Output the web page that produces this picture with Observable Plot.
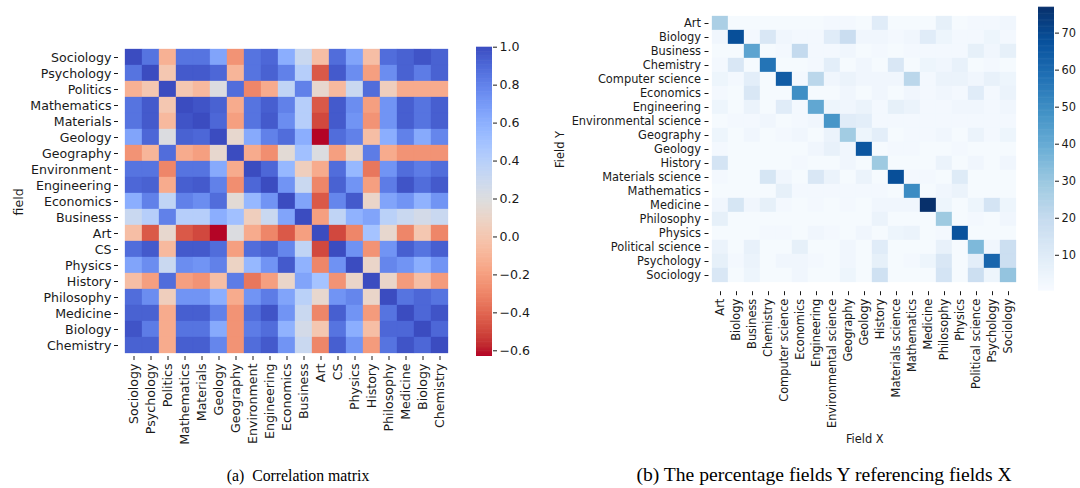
<!DOCTYPE html>
<html><head><meta charset="utf-8">
<script src="https://cdn.jsdelivr.net/npm/d3@7"></script>
<script src="https://cdn.jsdelivr.net/npm/@observablehq/plot@0.6"></script>
<style>
body{margin:0;background:#fff;width:1080px;height:488px;position:relative;overflow:hidden;font-family:"DejaVu Sans",sans-serif;}
.p{position:absolute;top:0;}
.p svg{max-width:none;background:transparent;}
.cap{position:absolute;top:466px;font-family:"Liberation Serif",serif;font-size:17px;color:#000;white-space:pre;text-align:center;}
</style></head><body>
<div class="p" id="ha" style="left:0;width:460px"></div>
<div class="p" id="ca" style="left:476px;width:60px"></div>
<div class="p" id="hb" style="left:540px;width:485px"></div>
<div class="p" id="cb" style="left:1038px;width:42px"></div>
<div class="cap" style="left:98px;width:400px;font-size:15.8px;top:467px">(a)  Correlation matrix</div>
<div class="cap" style="left:574px;width:500px;font-size:19.6px;top:464px">(b) The percentage fields Y referencing fields X</div>
<script>
// ---- data: (a) correlation matrix ----
const fieldsA = ["Sociology","Psychology","Politics","Mathematics","Materials","Geology","Geography","Environment","Engineering","Economics","Business","Art","CS","Physics","History","Philosophy","Medicine","Biology","Chemistry"];
const corr = [
 [1.0,0.85,-0.12,0.85,0.85,0.65,-0.25,0.85,0.9,0.6,0.3,-0.05,0.88,0.65,-0.05,0.88,0.92,0.97,0.92],
 [0.85,1.0,0.0,0.95,0.95,0.9,-0.1,0.85,0.92,0.8,0.4,-0.45,0.95,0.75,-0.2,0.75,0.92,0.82,0.92],
 [-0.12,0.0,1.0,0.0,-0.08,0.2,0.88,-0.3,-0.15,0.35,0.8,0.12,-0.08,0.3,0.88,0.05,-0.15,-0.15,-0.15],
 [0.85,0.95,0.0,1.0,0.97,0.92,-0.15,0.85,0.93,0.8,0.4,-0.45,0.95,0.75,-0.2,0.72,0.93,0.85,0.93],
 [0.85,0.95,-0.08,0.97,1.0,0.9,-0.2,0.85,0.95,0.75,0.4,-0.5,0.95,0.72,-0.25,0.72,0.93,0.85,0.93],
 [0.65,0.9,0.2,0.92,0.9,1.0,0.12,0.62,0.8,0.88,0.6,-0.63,0.88,0.8,-0.05,0.6,0.8,0.62,0.78],
 [-0.25,-0.1,0.88,-0.15,-0.2,0.12,1.0,-0.15,-0.27,0.15,0.5,0.2,-0.2,0.08,0.82,-0.15,-0.25,-0.25,-0.25],
 [0.85,0.85,-0.3,0.85,0.85,0.62,-0.15,1.0,0.9,0.55,0.05,-0.15,0.88,0.55,-0.35,0.72,0.88,0.82,0.88],
 [0.9,0.92,-0.15,0.93,0.95,0.8,-0.27,0.9,1.0,0.72,0.3,-0.3,0.92,0.72,-0.2,0.82,0.97,0.88,0.95],
 [0.6,0.8,0.35,0.8,0.75,0.88,0.15,0.55,0.72,1.0,0.65,-0.45,0.78,0.95,0.1,0.65,0.72,0.58,0.72],
 [0.3,0.4,0.8,0.4,0.4,0.6,0.5,0.05,0.3,0.65,1.0,-0.2,0.35,0.58,0.65,0.38,0.3,0.25,0.3],
 [-0.05,-0.45,0.12,-0.45,-0.5,-0.63,0.2,-0.15,-0.3,-0.45,-0.2,1.0,-0.5,-0.3,0.48,0.12,-0.3,0.0,-0.3],
 [0.88,0.95,-0.08,0.95,0.95,0.88,-0.2,0.88,0.92,0.78,0.35,-0.5,1.0,0.73,-0.25,0.72,0.93,0.85,0.93],
 [0.65,0.75,0.3,0.75,0.72,0.8,0.08,0.55,0.72,0.95,0.58,-0.3,0.73,1.0,0.1,0.78,0.72,0.6,0.72],
 [-0.05,-0.2,0.88,-0.2,-0.25,-0.05,0.82,-0.35,-0.2,0.1,0.65,0.48,-0.25,0.1,1.0,0.1,-0.22,-0.05,-0.22],
 [0.88,0.75,0.05,0.72,0.72,0.6,-0.15,0.72,0.82,0.65,0.38,0.12,0.72,0.78,0.1,1.0,0.85,0.9,0.85],
 [0.92,0.92,-0.15,0.93,0.93,0.8,-0.25,0.88,0.97,0.72,0.3,-0.3,0.93,0.72,-0.22,0.85,1.0,0.9,0.97],
 [0.97,0.82,-0.15,0.85,0.85,0.62,-0.25,0.82,0.88,0.58,0.25,0.0,0.85,0.6,-0.05,0.9,0.9,1.0,0.9],
 [0.92,0.92,-0.15,0.93,0.93,0.78,-0.25,0.88,0.95,0.72,0.3,-0.3,0.93,0.72,-0.22,0.85,0.97,0.9,1.0]
];
const corrTicks = [-0.6,-0.4,-0.2,0.0,0.2,0.4,0.6,0.8,1.0];

// ---- data: (b) percentage fields Y referencing fields X ----
const fieldsB = ["Art","Biology","Business","Chemistry","Computer science","Economics","Engineering","Environmental science","Geography","Geology","History","Materials science","Mathematics","Medicine","Philosophy","Physics","Political science","Psychology","Sociology"];
const pct = [
 [26,1,1,1,1,1,1,2,2,1,9,1,1,1,7,1,2,2,3],
 [3,68,2,12,3,2,2,9,18,3,3,2,3,9,4,2,2,4,2],
 [1,1,42,1,2,20,2,2,3,1,2,1,2,2,2,2,7,3,7],
 [2,12,1,57,1,1,2,8,1,3,1,12,1,4,3,6,1,2,1],
 [4,2,8,1,64,2,22,3,5,3,3,3,22,2,5,5,3,6,4],
 [2,1,12,1,1,49,1,1,3,1,3,1,3,2,3,2,9,2,5],
 [4,1,5,1,9,2,41,4,3,5,2,7,5,2,2,3,3,2,3],
 [1,2,2,3,1,2,3,47,9,8,2,2,2,2,2,2,2,2,2],
 [4,1,3,1,2,3,1,5,28,4,8,1,2,2,3,1,5,2,4],
 [2,1,1,1,1,1,3,6,3,66,1,2,2,1,1,2,1,1,1],
 [14,1,1,1,1,2,1,1,3,1,29,1,1,1,5,1,3,1,3],
 [2,1,1,13,3,1,12,5,1,5,1,68,2,2,1,10,1,1,1],
 [1,1,1,1,7,2,2,2,2,2,2,1,50,1,3,5,1,1,1],
 [3,13,3,7,2,1,2,1,2,1,3,3,3,77,4,1,4,14,4],
 [7,1,1,1,1,1,1,1,1,1,5,1,1,1,29,1,2,1,3],
 [1,1,1,2,2,1,3,2,1,3,1,4,5,1,2,67,1,1,1],
 [5,1,6,1,1,7,1,1,3,1,9,1,1,1,6,1,35,3,17],
 [7,2,5,1,3,3,2,1,3,1,7,1,2,4,12,1,8,61,17],
 [12,1,4,1,1,3,1,1,4,1,16,1,1,1,14,1,17,4,31]
];
const pctTicks = [10,20,30,40,50,60,70];

// ---- colour maps (matplotlib coolwarm, Blues) ----
const coolwarm = ["#3b4cc0","#445acc","#4d68d7","#5775e1","#6282ea","#6c8ef1","#779af7","#82a5fb","#8db0fe","#98b9ff","#a3c2ff","#aec9fd","#b8d0f9","#c2d5f4","#ccd9ee","#d5dbe6","#dddddd","#e5d8d1","#ecd3c5","#f1ccb8","#f5c4ad","#f7bba0","#f7b194","#f7a687","#f49a7b","#f18d6f","#ec7f63","#e57058","#de604d","#d55042","#cb3e38","#c0282f","#b40426"];
const blues = ["#f7fbff","#deebf7","#c6dbef","#9ecae1","#6baed6","#4292c6","#2171b5","#08519c","#08306b"];

const cellsA = fieldsA.flatMap((r,i)=>fieldsA.map((c,j)=>({row:r,col:c,v:corr[i][j]})));
const cellsB = fieldsB.flatMap((r,i)=>fieldsB.map((c,j)=>({row:r,col:c,v:pct[i][j]})));

const domA = [-0.63, 1.0], domB = [0.3, 77];
const colorA = {type:"linear", domain:domA, reverse:true, interpolate:d3.piecewise(d3.interpolateRgb, coolwarm)};
const colorB = {type:"linear", domain:domB, interpolate:d3.piecewise(d3.interpolateRgb, blues)};
const ink = "#1a1a1a";

// (a) heatmap
document.getElementById("ha").append(Plot.plot({
  width:460, height:462, marginLeft:118, marginRight:5, marginTop:46.7, marginBottom:106,
  style:{fontFamily:"DejaVu Sans", fontSize:"12.6px", color:ink, background:"transparent"},
  x:{domain:fieldsA, padding:0},
  y:{domain:fieldsA, padding:0},
  color:colorA,
  marks:[
    Plot.cell(cellsA,{x:"col",y:"row",fill:"v",stroke:"v",strokeWidth:0.3,inset:0}),
    Plot.axisX({tickRotate:-90, tickSize:4, tickPadding:3, label:null}),
    Plot.axisY({tickSize:4, tickPadding:3, label:"field", labelAnchor:"center", labelOffset:104})
  ]
}));

// (a) colorbar
const nA = 240, stA = (domA[1]-domA[0])/nA;
const rampA = d3.range(nA).map(i => domA[0] + i*stA);
document.getElementById("ca").append(Plot.plot({
  width:60, height:370, marginLeft:0, marginRight:44, marginTop:46.7, marginBottom:14,
  style:{fontFamily:"DejaVu Sans", fontSize:"12.6px", color:ink, background:"transparent"},
  x:{domain:[0,1], axis:null},
  y:{domain:domA, axis:null},
  color:colorA,
  marks:[
    Plot.rect(rampA,{x1:0,x2:1,y1:d=>d,y2:d=>Math.min(domA[1], d+stA*1.5),fill:d=>d}),
    Plot.axisY({anchor:"right", ticks:corrTicks, tickFormat:d3.format(".1f"), tickSize:4, tickPadding:3, label:null})
  ]
}));

// (b) heatmap
document.getElementById("hb").append(Plot.plot({
  width:485, height:450, marginLeft:168.5, marginRight:5, marginTop:6.7, marginBottom:158.8,
  style:{fontFamily:"DejaVu Sans", fontSize:"11.4px", color:ink, background:"transparent"},
  x:{domain:fieldsB, padding:0},
  y:{domain:fieldsB, padding:0},
  color:colorB,
  marks:[
    Plot.cell(cellsB,{x:"col",y:"row",fill:"v",stroke:"v",strokeWidth:0.3,inset:0}),
    Plot.axisX({tickRotate:-90, tickSize:4, tickPadding:3, label:"Field X", labelAnchor:"center", labelOffset:151}),
    Plot.axisY({tickSize:4, tickPadding:4, label:"Field Y", labelAnchor:"center", labelOffset:153})
  ]
}));

// (b) colorbar
const nB = 240, stB = (domB[1]-domB[0])/nB;
const rampB = d3.range(nB).map(i => domB[0] + i*stB);
document.getElementById("cb").append(Plot.plot({
  width:42, height:310, marginLeft:0, marginRight:26, marginTop:6.7, marginBottom:19.3,
  style:{fontFamily:"DejaVu Sans", fontSize:"11.4px", color:ink, background:"transparent"},
  x:{domain:[0,1], axis:null},
  y:{domain:domB, axis:null},
  color:colorB,
  marks:[
    Plot.rect(rampB,{x1:0,x2:1,y1:d=>d,y2:d=>Math.min(domB[1], d+stB*1.5),fill:d=>d}),
    Plot.axisY({anchor:"right", ticks:pctTicks, tickFormat:d3.format("d"), tickSize:4, tickPadding:3, label:null})
  ]
}));
</script>
</body></html>
